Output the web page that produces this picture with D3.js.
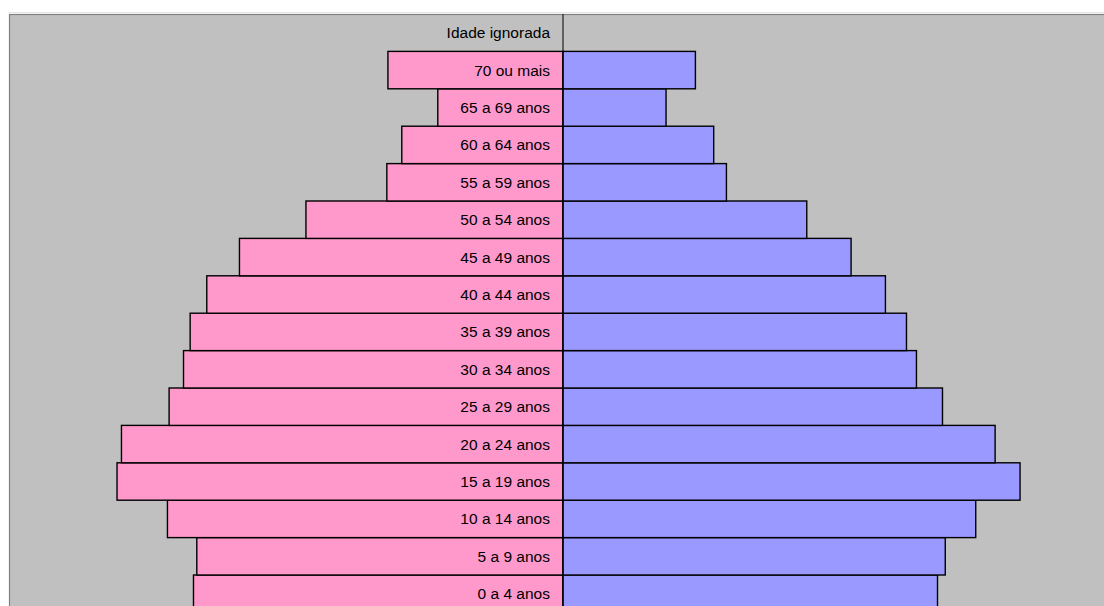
<!DOCTYPE html>
<html>
<head>
<meta charset="utf-8">
<script src="https://cdn.jsdelivr.net/npm/d3@7"></script>
<style>
  html, body { margin: 0; padding: 0; background: #fff; overflow: hidden; }
  svg { display: block; }
</style>
</head>
<body>
<svg id="chart" width="1104" height="606"></svg>
<script>
// faixas etárias, de baixo para cima
const faixas = [
  "0 a 4 anos", "5 a 9 anos", "10 a 14 anos", "15 a 19 anos", "20 a 24 anos",
  "25 a 29 anos", "30 a 34 anos", "35 a 39 anos", "40 a 44 anos", "45 a 49 anos",
  "50 a 54 anos", "55 a 59 anos", "60 a 64 anos", "65 a 69 anos", "70 ou mais",
  "Idade ignorada"
];
// % da população
const mulheres = [6.67, 6.61, 7.14, 8.05, 7.97, 7.11, 6.85, 6.73, 6.43, 5.84, 4.64, 3.18, 2.91, 2.26, 3.16, 0];
const homens   = [6.76, 6.90, 7.45, 8.25, 7.80, 6.85, 6.38, 6.20, 5.82, 5.20, 4.40, 2.95, 2.72, 1.86, 2.39, 0];
const xDominio = [-10, 10];

const svg = d3.select("#chart");
const margin = { top: 14, left: 9 };
const plotW = 1108, plotH = 598.4;

const x = d3.scaleLinear().domain(xDominio).range([margin.left, margin.left + plotW]);
const y = d3.scaleBand()
  .domain(faixas.slice().reverse())
  .range([margin.top, margin.top + plotH])
  .padding(0);

const data = faixas.map((f, i) => ({ faixa: f, m: mulheres[i], h: homens[i] }));

// fundo da área de plotagem
svg.append("line")
  .attr("x1", margin.left).attr("x2", 1104)
  .attr("y1", margin.top - 1.5).attr("y2", margin.top - 1.5)
  .attr("stroke", "#e4e4e4").attr("stroke-width", 1);
svg.append("rect")
  .attr("x", margin.left + 0.5).attr("y", margin.top + 0.5)
  .attr("width", plotW).attr("height", plotH)
  .attr("fill", "#c0c0c0")
  .attr("stroke", "#808080").attr("stroke-width", 1.2);

// mulheres (esquerda)
svg.append("g").selectAll("rect")
  .data(data.filter(d => d.m > 0))
  .join("rect")
  .attr("x", d => x(-d.m))
  .attr("y", d => y(d.faixa))
  .attr("width", d => x(0) - x(-d.m))
  .attr("height", y.bandwidth())
  .attr("fill", "#ff99cc")
  .attr("stroke", "#000").attr("stroke-width", 1.4);

// homens (direita)
svg.append("g").selectAll("rect")
  .data(data.filter(d => d.h > 0))
  .join("rect")
  .attr("x", x(0))
  .attr("y", d => y(d.faixa))
  .attr("width", d => x(d.h) - x(0))
  .attr("height", y.bandwidth())
  .attr("fill", "#9999ff")
  .attr("stroke", "#000").attr("stroke-width", 1.4);

// eixo vertical central
svg.append("line")
  .attr("x1", x(0)).attr("x2", x(0))
  .attr("y1", margin.top).attr("y2", margin.top + plotH)
  .attr("stroke", "#000").attr("stroke-width", 1);

// rótulos das faixas
svg.append("g").selectAll("text")
  .data(data)
  .join("text")
  .attr("x", x(0) - 13)
  .attr("y", d => y(d.faixa) + y.bandwidth() / 2 + 5.5)
  .attr("text-anchor", "end")
  .attr("font-family", "Arial, 'Liberation Sans', sans-serif")
  .attr("font-size", 15.5)
  .attr("fill", "#000")
  .text(d => d.faixa);
</script>
</body>
</html>
